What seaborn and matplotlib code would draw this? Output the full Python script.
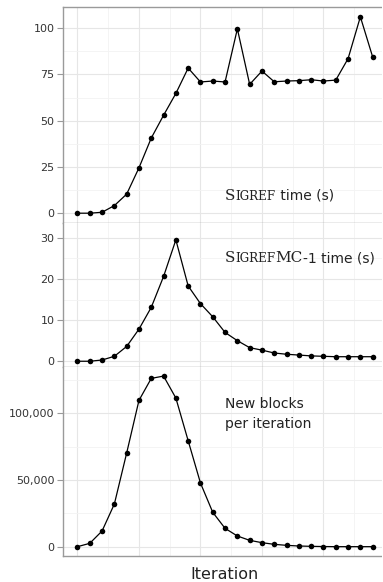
"""
Three stacked panels: Sigref time, SigrefMC-1 time and new blocks per iteration.
"""

import matplotlib
matplotlib.use("Agg")
import matplotlib.pyplot as plt
import matplotlib.ticker as mticker
from matplotlib.offsetbox import AnchoredOffsetbox, HPacker, TextArea
from matplotlib.patches import Rectangle
import pandas as pd
import seaborn as sns

iterations = list(range(25))

sigref_time = [0.0, 0.0, 0.5, 4.1, 10.3, 24.5, 40.6, 52.9, 64.7, 78.4,
               70.9, 71.4, 70.9, 99.6, 69.6, 76.8, 71.0, 71.4, 71.6, 72.1,
               71.4, 71.9, 83.5, 106.1, 84.4]

sigrefmc_time = [0.0, 0.0, 0.3, 1.2, 3.6, 7.8, 13.1, 20.6, 29.5, 18.3,
                 14.0, 10.8, 7.0, 5.0, 3.3, 2.7, 2.0, 1.7, 1.5, 1.3,
                 1.2, 1.1, 1.1, 1.1, 1.1]

new_blocks = [0, 2500, 11750, 32000, 70250, 109750, 126250, 128000, 111500, 79500,
              47750, 25750, 13750, 8000, 4750, 3000, 1750, 1000, 500, 250,
              100, 0, 0, 0, 0]

sigref_ticks = [0, 25, 50, 75, 100]
sigrefmc_ticks = [0, 10, 20, 30]
blocks_ticks = [0, 50000, 100000]
x_major = [0, 5, 10, 15, 20]
x_minor = [2.5, 7.5, 12.5, 17.5, 22.5]

GRID = "#e6e6e6"
MINOR = "#f3f3f3"
SPINE = "#9a9a9a"
TEXT = "#222222"

sns.set_theme(style="white")
plt.rcParams["font.family"] = ["DejaVu Sans"]

fig = plt.figure(figsize=(3.83, 5.82), dpi=100)
H = 582.0
W = 383.0
left = 62.7 / W
width = 1.0 - left


def make_ax(top_px, bottom_px):
    return fig.add_axes([left, (H - bottom_px) / H, width, (bottom_px - top_px) / H])


ax1 = make_ax(7, 223)
ax2 = make_ax(223, 367)
ax3 = make_ax(367, 556)

panels = [
    (ax1, sigref_time, sigref_ticks, (-5.3, 111.4)),
    (ax2, sigrefmc_time, sigrefmc_ticks, (-1.4, 33.6)),
    (ax3, new_blocks, blocks_ticks, (-7000, 134800)),
]

for ax, values, ticks, ylim in panels:
    df = pd.DataFrame({"iteration": iterations, "value": values})
    sns.lineplot(data=df, x="iteration", y="value", ax=ax, color="black",
                 linewidth=0.9, marker="o", markersize=4, markeredgewidth=0,
                 zorder=3)
    # panel is cut off at the right edge, like the original
    ax.set_xlim(-1.2, 24.84)
    ax.set_ylim(*ylim)
    ax.set_yticks(ticks)
    step = ticks[1] - ticks[0]
    ax.yaxis.set_minor_locator(mticker.MultipleLocator(step / 2))
    ax.xaxis.set_major_locator(mticker.FixedLocator(x_major))
    ax.xaxis.set_minor_locator(mticker.FixedLocator(x_minor))
    ax.grid(which="major", color=GRID, linewidth=0.8)
    ax.grid(which="minor", color=MINOR, linewidth=0.6)
    ax.set_axisbelow(True)
    ax.set_xlabel("")
    ax.set_ylabel("")
    ax.tick_params(axis="x", which="both", bottom=False, labelbottom=False)
    ax.tick_params(axis="y", which="major", left=True, length=4, width=0.8,
                   color=SPINE, pad=2, labelsize=8, labelcolor="#333333")
    ax.tick_params(axis="y", which="minor", left=False)
    for side in ["right", "top"]:
        ax.spines[side].set_visible(False)
    for side in ["left", "bottom"]:
        ax.spines[side].set_color(SPINE)
        ax.spines[side].set_linewidth(1.0)

ax1.spines["top"].set_visible(True)
ax1.spines["top"].set_color(SPINE)
ax1.spines["top"].set_linewidth(1.0)

ax3.yaxis.set_major_formatter(mticker.FuncFormatter(lambda v, p: f"{int(v):,}"))
ax3.set_xlabel("Iteration", fontsize=11.5, color=TEXT, labelpad=8)
ax3.xaxis.label.set_position(((225 - 62.7) / (W - 62.7), 0))


def caps_label(ax, pieces, xy):
    # pieces: (text, family, size) -- emulates LaTeX small caps
    parts = [TextArea(t, textprops=dict(family=f, size=s, color=TEXT)) for t, f, s in pieces]
    pack = HPacker(children=parts, align="baseline", pad=0, sep=0)
    box = AnchoredOffsetbox(loc="center left", child=pack, pad=0, borderpad=0,
                            frameon=False, bbox_to_anchor=xy,
                            bbox_transform=ax.transData)
    ax.add_artist(box)


caps_label(ax1, [("S", "DejaVu Serif", 11), ("IGREF", "DejaVu Serif", 8.6),
                 (" time (s)", "DejaVu Sans", 10)], (12, 9.5))
caps_label(ax2, [("S", "DejaVu Serif", 11), ("IGREF", "DejaVu Serif", 8.6),
                 ("MC", "DejaVu Serif", 11), ("-1 time (s)", "DejaVu Sans", 10)],
           (12, 25.0))

ax3.text(12, 99500, "New blocks\nper iteration", fontsize=10, color=TEXT,
         ha="left", va="center", linespacing=1.5)

# mask the stray edge column at the far right
fig.patches.append(Rectangle((381.6 / W, 0), 1.5 / W, 1, transform=fig.transFigure,
                             facecolor="white", edgecolor="none", zorder=10))

fig.savefig("out.png", dpi=100)
